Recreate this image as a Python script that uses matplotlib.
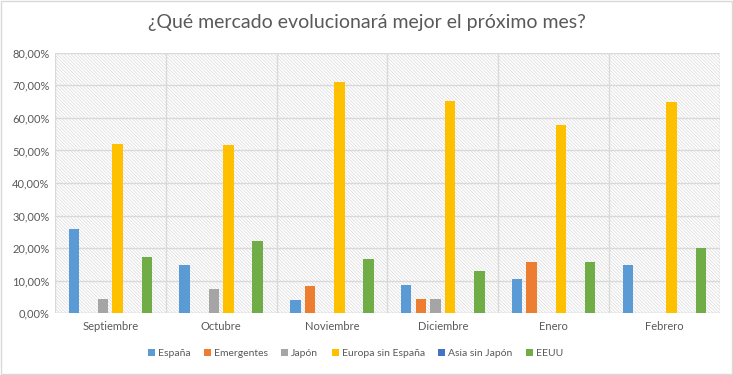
import numpy as np
import matplotlib.pyplot as plt
from matplotlib.patches import Rectangle
from matplotlib.ticker import FuncFormatter, MultipleLocator

plt.rcParams['font.family'] = ['Lato', 'DejaVu Sans']
plt.rcParams['hatch.linewidth'] = 0.5
plt.rcParams['hatch.color'] = '#d9d9d9'

meses = ['Septiembre', 'Octubre', 'Noviembre', 'Diciembre', 'Enero', 'Febrero']
series = ['España', 'Emergentes', 'Japón', 'Europa sin España', 'Asia sin Japón', 'EEUU']
colores = ['#5b9bd5', '#ed7d31', '#a5a5a5', '#ffc000', '#4472c4', '#70ad47']

espana = [25.9, 14.8, 4.0, 8.6, 10.5, 14.8]
emergentes = [0, 0, 8.3, 4.4, 15.8, 0]
japon = [4.3, 7.5, 0, 4.4, 0, 0]
europa = [52.0, 51.8, 70.9, 65.2, 57.8, 64.9]
asia = [0, 0, 0, 0, 0, 0]
eeuu = [17.2, 22.2, 16.6, 12.9, 15.7, 20.0]
valores = [espana, emergentes, japon, europa, asia, eeuu]

fig = plt.figure(figsize=(7.33, 3.75), dpi=100)
ax = fig.add_axes([0.075, 0.165, 0.907, 0.694])

# fondo rayado
ax.add_patch(Rectangle((0, 0), 1, 1, transform=ax.transAxes, facecolor='white',
                       edgecolor='#d9d9d9', hatch='\\' * 10, lw=0, zorder=0))

x = np.arange(len(meses))
paso = 0.132
ancho = 0.095
for i, (nombre, vals) in enumerate(zip(series, valores)):
    ax.bar(x + (i - 2.5) * paso, vals, ancho, color=colores[i], label=nombre, zorder=3)

ax.set_xlim(-0.5, len(meses) - 0.5)
ax.set_ylim(0, 80)
ax.yaxis.set_major_locator(MultipleLocator(10))
ax.yaxis.set_major_formatter(FuncFormatter(lambda v, p: f'{v:.2f}'.replace('.', ',') + '%'))
ax.grid(axis='y', color='#d9d9d9', lw=1, zorder=1)
for b in np.arange(-0.5, len(meses), 1):
    ax.axvline(b, color='#d9d9d9', lw=1, zorder=1)

ax.set_xticks(x)
ax.set_xticklabels(meses)
for s in ax.spines.values():
    s.set_visible(False)
ax.axhline(0, color='#d9d9d9', lw=1, zorder=2)
ax.tick_params(length=0, labelsize=8, labelcolor='#595959', pad=6)
ax.tick_params(axis='y', pad=4)

fig.text(0.5, 0.94, '¿Qué mercado evolucionará mejor el próximo mes?', ha='center',
         va='center', fontsize=14, color='#595959')

fig.legend(loc='center', bbox_to_anchor=(0.485, 0.058), ncol=6, frameon=False,
           fontsize=7.5, labelcolor='#595959', handlelength=0.65, handleheight=0.65,
           handletextpad=0.3, columnspacing=1.3)

fig.patches.append(Rectangle((0.001, 0.002), 0.997, 0.995, transform=fig.transFigure,
                             fill=False, edgecolor='#d9d9d9', lw=1))

fig.savefig('out.png', dpi=100)
